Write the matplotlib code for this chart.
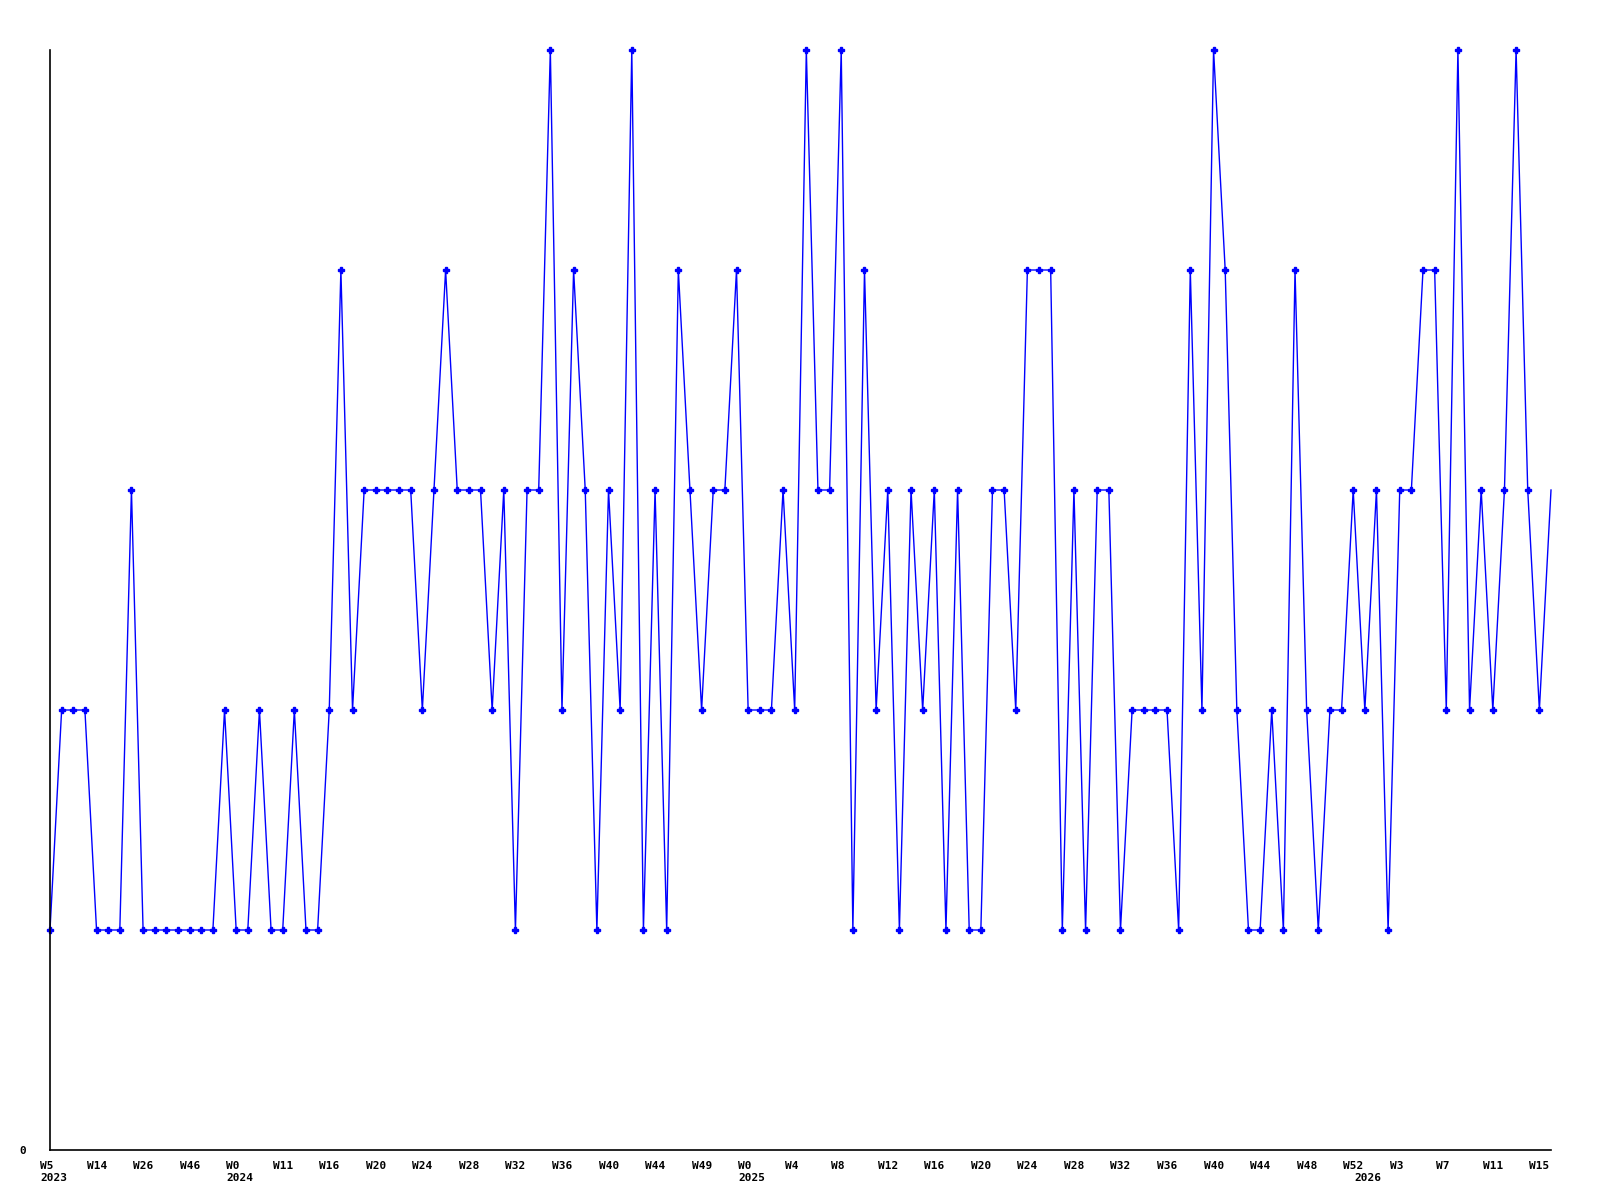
import matplotlib
matplotlib.use("Agg")
import matplotlib.pyplot as plt
import matplotlib.transforms as mtransforms

# ===== DATA =====
values = [
    1, 2, 2, 2, 1, 1, 1, 3, 1, 1, 1, 1, 1, 1, 1, 2, 1, 1, 2, 1,
    1, 2, 1, 1, 2, 4, 2, 3, 3, 3, 3, 3, 2, 3, 4, 3, 3, 3, 2, 3,
    1, 3, 3, 5, 2, 4, 3, 1, 3, 2, 5, 1, 3, 1, 4, 3, 2, 3, 3, 4,
    2, 2, 2, 3, 2, 5, 3, 3, 5, 1, 4, 2, 3, 1, 3, 2, 3, 1, 3, 1,
    1, 3, 3, 2, 4, 4, 4, 1, 3, 1, 3, 3, 1, 2, 2, 2, 2, 1, 4, 2,
    5, 4, 2, 1, 1, 2, 1, 4, 2, 1, 2, 2, 3, 2, 3, 1, 3, 3, 4, 4,
    2, 5, 2, 3, 2, 3, 5, 3, 2, 3,
]
week_labels = [
    "W5", "W14", "W26", "W46", "W0", "W11", "W16", "W20", "W24", "W28",
    "W32", "W36", "W40", "W44", "W49", "W0", "W4", "W8", "W12", "W16",
    "W20", "W24", "W28", "W32", "W36", "W40", "W44", "W48", "W52", "W3",
    "W7", "W11", "W15",
]
year_labels = ["2023", "2024", "2025", "2026"]
year_pos = [0, 16, 60, 113]

# ===== PLOT =====
fig = plt.figure(figsize=(16, 12), dpi=100)
ax = fig.add_axes([50 / 1600, 50 / 1200, 1501 / 1600, 1100 / 1200])

x = list(range(len(values)))
ax.plot(x, values, color="#0000ff", lw=1.0, marker="P", ms=3.8,
        markevery=list(range(len(values) - 1)), clip_on=False)

ax.set_xlim(0, len(values) - 1)
ax.set_ylim(0, 5)
for s in ("top", "right"):
    ax.spines[s].set_visible(False)
ax.spines["left"].set_linewidth(1.2)
ax.spines["bottom"].set_linewidth(1.2)

font = dict(family="DejaVu Sans Mono", weight="bold", size=8)

ax.set_yticks([0])
ax.set_yticklabels(["0"], **font)
ax.tick_params(axis="y", length=0, pad=17)

ticks = list(range(0, len(values), 4))
ax.set_xticks(ticks)
ax.set_xticklabels(week_labels, ha="left", **font)
ax.tick_params(axis="x", length=0, pad=8)
shift = mtransforms.ScaledTranslation(-10 / 100, 0, fig.dpi_scale_trans)
for lbl in ax.get_xticklabels():
    lbl.set_transform(lbl.get_transform() + shift)

ytrans = mtransforms.blended_transform_factory(ax.transData, ax.transAxes)
for yl, xp in zip(year_labels, year_pos):
    ax.text(xp, 0, yl, ha="left", va="top",
            transform=ytrans + mtransforms.ScaledTranslation(-10 / 100, -23 / 100, fig.dpi_scale_trans),
            **font)

fig.savefig("out.png", dpi=100, facecolor="white")
